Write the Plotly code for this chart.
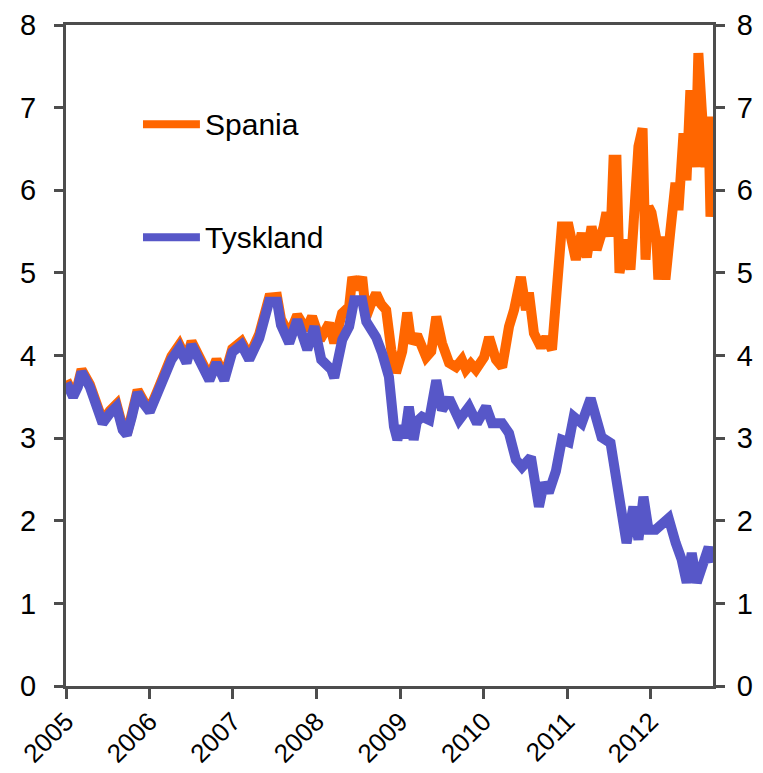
import plotly.graph_objects as go

# Germany (Tyskland) 10y yield
de_dates = ["2005-01-03","2005-02-01","2005-02-22","2005-03-10","2005-04-15","2005-05-20","2005-06-10",
 "2005-07-12","2005-08-10","2005-09-06","2005-09-24","2005-10-15","2005-11-10","2005-12-06",
 "2006-01-02","2006-02-06","2006-02-28","2006-04-07","2006-05-12","2006-06-12","2006-07-04",
 "2006-08-21","2006-09-20","2006-10-21","2006-11-24","2006-12-29","2007-02-07","2007-03-13",
 "2007-04-26","2007-06-08","2007-07-13","2007-07-30","2007-09-04","2007-10-09","2007-11-22",
 "2007-12-23","2008-01-22","2008-03-06","2008-03-19","2008-04-23","2008-05-23","2008-06-14",
 "2008-07-19","2008-08-06","2008-09-18","2008-10-14","2008-11-13","2008-12-05","2008-12-20",
 "2009-01-08","2009-01-20","2009-02-08","2009-03-01","2009-03-15","2009-04-07","2009-05-08",
 "2009-06-08","2009-07-03","2009-08-03","2009-09-16","2009-10-29","2009-12-03","2010-01-12",
 "2010-02-07","2010-03-23","2010-04-22","2010-05-22","2010-06-18","2010-07-27","2010-08-31",
 "2010-09-22","2010-10-13","2010-11-13","2010-12-09","2011-01-08","2011-01-30","2011-03-06",
 "2011-04-14","2011-05-06","2011-06-01","2011-07-10","2011-08-01","2011-08-27","2011-09-18",
 "2011-10-18","2011-11-09","2011-12-01","2011-12-23","2012-01-23","2012-02-18","2012-03-20",
 "2012-04-20","2012-05-16","2012-06-07","2012-06-29","2012-07-21","2012-08-20","2012-09-11",
 "2012-09-24"]
de_vals = [3.67,3.50,3.62,3.80,3.62,3.34,3.18,
 3.30,3.38,3.10,3.04,3.25,3.55,3.42,
 3.32,3.55,3.70,3.95,4.09,3.91,4.13,
 3.86,3.70,3.91,3.70,4.04,4.13,3.95,
 4.21,4.65,4.65,4.37,4.15,4.43,4.07,
 4.35,3.95,3.83,3.73,4.19,4.35,4.67,
 4.67,4.41,4.22,4.03,3.74,3.14,2.98,
 3.15,3.00,3.38,2.98,3.20,3.26,3.22,
 3.70,3.34,3.48,3.22,3.38,3.18,3.38,
 3.18,3.18,3.06,2.74,2.65,2.77,2.17,
 2.46,2.34,2.60,2.98,2.95,3.26,3.18,
 3.48,3.26,3.01,2.94,2.49,2.17,1.73,
 2.17,1.77,2.29,1.89,1.89,1.97,2.03,
 1.73,1.53,1.25,1.61,1.25,1.53,1.68,
 1.49]

# Spain (Spania) 10y yield
es_dates = ["2005-01-03","2005-02-01","2005-02-22","2005-03-10","2005-04-15","2005-05-20","2005-06-10",
 "2005-07-12","2005-08-10","2005-09-06","2005-09-24","2005-10-15","2005-11-10","2005-12-06",
 "2006-01-02","2006-02-06","2006-02-28","2006-04-07","2006-05-12","2006-06-12","2006-07-04",
 "2006-08-21","2006-09-20","2006-10-21","2006-11-24","2006-12-29","2007-02-07","2007-03-13",
 "2007-04-26","2007-06-08","2007-07-13","2007-07-30","2007-09-04","2007-10-09","2007-11-17",
 "2007-12-13","2008-01-17","2008-02-26","2008-03-19","2008-04-22","2008-05-23","2008-06-06",
 "2008-06-27","2008-07-19","2008-08-06","2008-08-23","2008-09-18","2008-10-10","2008-11-01",
 "2008-11-23","2008-12-14","2009-01-10","2009-02-01","2009-02-19","2009-03-16","2009-04-25",
 "2009-05-17","2009-06-08","2009-07-03","2009-08-03","2009-09-02","2009-09-28","2009-10-16",
 "2009-11-06","2009-11-28","2010-01-03","2010-01-25","2010-02-24","2010-03-23","2010-04-22",
 "2010-05-14","2010-06-13","2010-07-05","2010-07-18","2010-08-09","2010-09-09","2010-10-01",
 "2010-10-27","2010-11-13","2010-11-26","2010-12-09","2011-01-08","2011-02-08","2011-03-06",
 "2011-03-28","2011-04-18","2011-05-10","2011-06-10","2011-06-22","2011-07-10","2011-07-23",
 "2011-08-05","2011-08-18","2011-09-14","2011-10-05","2011-10-18","2011-11-09","2011-11-27",
 "2011-12-10","2011-12-23","2012-01-05","2012-01-27","2012-02-04","2012-02-26","2012-03-06",
 "2012-03-28","2012-04-19","2012-05-02","2012-05-24","2012-06-06","2012-06-23","2012-07-15",
 "2012-07-28","2012-08-11","2012-08-28","2012-09-10","2012-09-19","2012-09-26"]
es_vals = [3.70,3.53,3.65,3.83,3.65,3.38,3.21,
 3.33,3.41,3.13,3.05,3.28,3.58,3.45,
 3.35,3.58,3.73,3.99,4.13,3.95,4.17,
 3.90,3.74,3.95,3.74,4.08,4.17,3.99,
 4.26,4.70,4.71,4.44,4.25,4.49,4.31,
 4.47,4.19,4.39,4.15,4.51,4.59,4.95,
 4.80,4.95,4.47,4.60,4.75,4.62,4.55,
 4.07,3.79,4.05,4.52,4.15,4.25,3.98,
 4.05,4.47,4.15,3.91,3.86,3.95,3.83,
 3.90,3.83,3.98,4.22,3.95,3.86,4.35,
 4.55,4.95,4.55,4.76,4.27,4.10,4.22,
 4.07,4.64,5.16,5.56,5.56,5.16,5.48,
 5.19,5.56,5.28,5.56,5.73,5.44,6.37,
 6.37,5.00,5.40,5.04,5.56,6.53,6.75,
 5.16,5.80,5.73,5.40,4.92,5.44,4.92,
 5.52,6.09,5.76,6.69,6.12,7.21,6.28,
 7.66,7.01,6.28,6.89,5.68,6.00]

y_ticks = [0, 1, 2, 3, 4, 5, 6, 7, 8]
year_ticks = ["2005-01-01","2006-01-01","2007-01-01","2008-01-01","2009-01-01",
              "2010-01-01","2011-01-01","2012-01-01"]
year_labels = ["2005","2006","2007","2008","2009","2010","2011","2012"]

ORANGE = "#FF6600"
BLUE = "#5757C8"
AXIS = "#4D4D4D"
FONT = "Liberation Sans, Arial, sans-serif"

fig = go.Figure()
fig.add_trace(go.Scatter(x=es_dates, y=es_vals, mode="lines", name="Spania",
                         line=dict(color=ORANGE, width=10), yaxis="y"))
fig.add_trace(go.Scatter(x=de_dates, y=de_vals, mode="lines", name="Tyskland",
                         line=dict(color=BLUE, width=10), yaxis="y2"))

axis_common = dict(range=[0, 8], tickvals=y_ticks, showgrid=False, zeroline=False,
                   showline=True, linecolor=AXIS, linewidth=3, ticks="outside",
                   ticklen=9, tickwidth=3, tickcolor=AXIS, automargin=False,
                   tickfont=dict(family=FONT, size=29, color="black"))

fig.update_layout(
    width=763, height=773,
    margin=dict(l=66, r=50, t=25, b=87),
    paper_bgcolor="white", plot_bgcolor="white",
    showlegend=False,
    xaxis=dict(type="date", range=["2005-01-01", "2012-09-30"], tickvals=year_ticks,
               ticktext=year_labels, tickangle=-45, showgrid=False, zeroline=False,
               showline=True, linecolor=AXIS, linewidth=3, mirror=True, automargin=False,
               ticks="outside", ticklen=10, tickwidth=3, tickcolor=AXIS,
               ticklabelstandoff=-3,
               tickfont=dict(family=FONT, size=26, color="black")),
    yaxis=dict(side="left", ticklabelstandoff=12, **axis_common),
    yaxis2=dict(side="right", overlaying="y", anchor="x", ticklabelstandoff=6, **axis_common),
)

# Legend drawn inside the plot (line samples + labels)
legend_items = [("Spania", ORANGE, 0.850), ("Tyskland", BLUE, 0.679)]
for name, color, ypos in legend_items:
    fig.add_shape(type="line", xref="paper", yref="paper", x0=0.119, x1=0.207,
                  y0=ypos, y1=ypos, line=dict(color=color, width=8))
    fig.add_annotation(xref="paper", yref="paper", x=0.212, y=ypos, text=name,
                       showarrow=False, xanchor="left", yanchor="middle",
                       font=dict(family=FONT, size=30, color="black"))

# Remove the page's default body margin so the figure fills the window exactly.
fig.write_html("out.html", config={"displayModeBar": False},
               post_script="document.body.style.margin='0';document.body.style.overflow='hidden';")
